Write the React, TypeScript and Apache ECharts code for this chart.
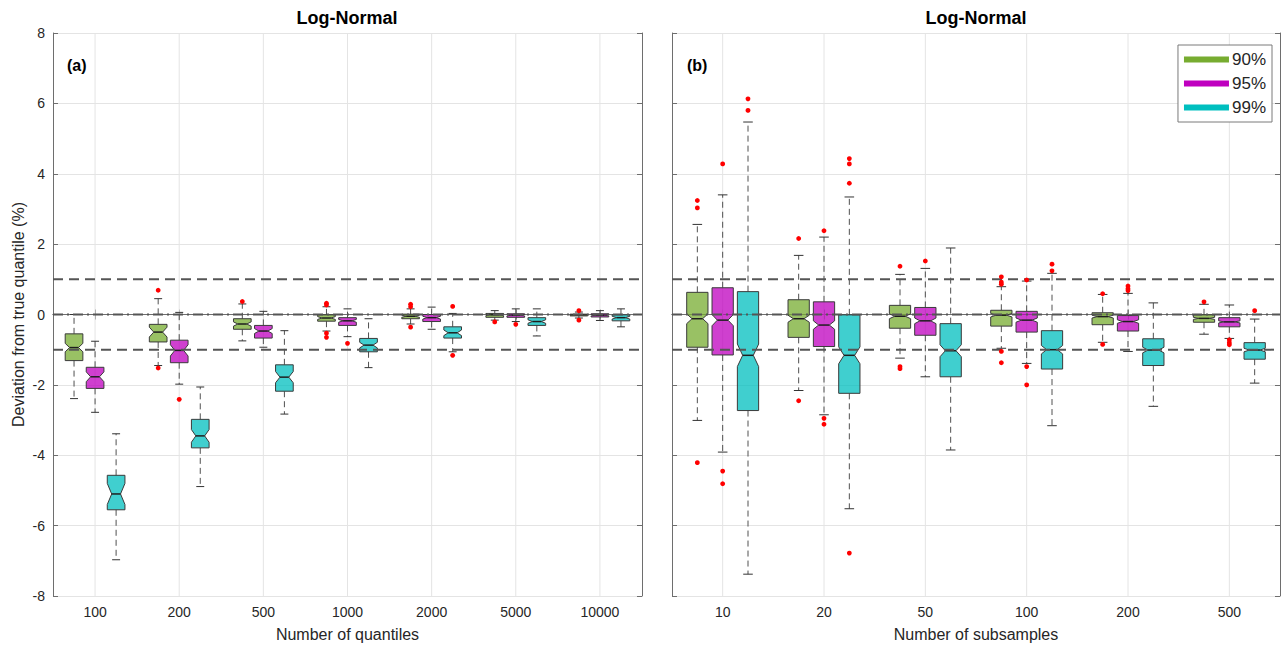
import React, { useEffect, useRef } from 'react';
import * as echarts from 'echarts';

// ---------- data ----------
const CATS_A = ['100', '200', '500', '1000', '2000', '5000', '10000'];
const CATS_B = ['10', '20', '50', '100', '200', '500'];
const SERIES_NAMES = ['90%', '95%', '99%'];
const Y_MIN = -8;
const Y_MAX = 8;
const Y_INTERVAL = 2;
const REF_LINES = [-1, 0, 1];

// each box: [lowerWhisker, q1, median, q3, upperWhisker, notchHalfWidth]
const A_90 = [
  [-2.39, -1.31, -0.94, -0.55, 0.0, 0.12],
  [-1.45, -0.78, -0.5, -0.28, 0.45, 0.14],
  [-0.75, -0.42, -0.27, -0.12, 0.3, 0.06],
  [-0.47, -0.19, -0.1, -0.01, 0.22, 0.04],
  [-0.27, -0.12, -0.05, 0.01, 0.16, 0.03],
  [-0.16, -0.08, -0.01, 0.03, 0.11, 0.02],
  [-0.1, -0.04, -0.01, 0.01, 0.07, 0.01],
];
const A_95 = [
  [-2.78, -2.1, -1.77, -1.5, -0.76, 0.14],
  [-1.98, -1.37, -1.02, -0.73, 0.06, 0.16],
  [-0.93, -0.67, -0.47, -0.31, 0.09, 0.07],
  [-0.63, -0.31, -0.18, -0.09, 0.16, 0.04],
  [-0.42, -0.2, -0.09, 0.0, 0.21, 0.04],
  [-0.2, -0.08, -0.02, 0.02, 0.16, 0.02],
  [-0.17, -0.07, -0.02, 0.02, 0.11, 0.02],
];
const A_99 = [
  [-6.97, -5.55, -5.1, -4.57, -3.39, 0.3],
  [-4.89, -3.79, -3.45, -2.98, -2.06, 0.18],
  [-2.83, -2.18, -1.78, -1.43, -0.46, 0.16],
  [-1.51, -1.06, -0.87, -0.68, -0.12, 0.08],
  [-1.06, -0.67, -0.52, -0.35, 0.03, 0.08],
  [-0.61, -0.31, -0.2, -0.09, 0.16, 0.05],
  [-0.35, -0.18, -0.09, -0.01, 0.16, 0.04],
];
const B_90 = [
  [-3.01, -0.93, -0.12, 0.63, 2.56, 0.14],
  [-2.16, -0.65, -0.12, 0.42, 1.68, 0.1],
  [-1.24, -0.39, -0.05, 0.26, 1.14, 0.07],
  [-0.96, -0.33, -0.02, 0.12, 0.79, 0.05],
  [-0.79, -0.29, -0.06, 0.05, 0.57, 0.04],
  [-0.56, -0.22, -0.11, -0.01, 0.29, 0.03],
];
const B_95 = [
  [-3.91, -1.15, -0.16, 0.76, 3.4, 0.16],
  [-2.85, -0.91, -0.3, 0.36, 2.2, 0.12],
  [-1.77, -0.59, -0.18, 0.2, 1.31, 0.08],
  [-1.39, -0.5, -0.16, 0.09, 0.95, 0.06],
  [-1.05, -0.47, -0.2, -0.03, 0.6, 0.05],
  [-0.68, -0.35, -0.21, -0.09, 0.27, 0.03],
];
const B_99 = [
  [-7.38, -2.73, -1.16, 0.65, 5.47, 0.32],
  [-5.52, -2.24, -1.16, -0.01, 3.34, 0.24],
  [-3.85, -1.77, -1.03, -0.26, 1.89, 0.17],
  [-3.16, -1.55, -1.0, -0.46, 1.17, 0.12],
  [-2.61, -1.45, -1.01, -0.69, 0.33, 0.08],
  [-1.95, -1.27, -1.01, -0.8, -0.13, 0.05],
];

// outliers: [categoryIndex, value]
const OUT_A_90 = [[1, 0.69], [1, -1.52], [2, 0.37], [3, 0.32], [3, 0.27], [3, -0.53], [3, -0.65], [4, 0.29], [4, 0.22], [4, -0.36], [5, -0.21], [6, 0.11], [6, -0.16]];
const OUT_A_95 = [[1, -2.41], [3, -0.82], [5, -0.28]];
const OUT_A_99 = [[4, 0.23], [4, -1.16]];
const OUT_B_90 = [[0, 3.24], [0, 3.03], [0, -4.21], [1, 2.16], [1, -2.45], [2, 1.37], [2, -1.48], [2, -1.54], [3, 1.07], [3, 0.92], [3, 0.86], [3, -1.05], [3, -1.37], [4, 0.59], [4, -0.85], [5, 0.36]];
const OUT_B_95 = [[0, 4.28], [0, -4.45], [0, -4.81], [1, 2.38], [1, -2.95], [1, -3.12], [2, 1.52], [3, 0.98], [3, -1.48], [3, -2.0], [4, 0.81], [4, 0.73], [4, 0.68], [5, -0.72], [5, -0.8], [5, -0.86]];
const OUT_B_99 = [[0, 6.13], [0, 5.8], [1, 4.43], [1, 4.28], [1, 3.73], [1, -6.78], [3, 1.43], [3, 1.24], [5, 0.11]];

// ---------- styles ----------
const COLORS = ['#77ac30', '#bf00bf', '#00bfbf'];
const FILLS = ['rgba(119,172,48,0.75)', 'rgba(191,0,191,0.75)', 'rgba(0,191,191,0.75)'];
const AXIS_COLOR = '#6e6e6e';
const GRID_COLOR = '#e4e4e4';
const TEXT_COLOR = '#262626';
const FONT = 'Liberation Sans, Arial, Helvetica, sans-serif';

const boxRender = (slot: number) => (params: any, api: any) => {
  const cat = api.value(0);
  const low = api.value(1);
  const q1 = api.value(2);
  const med = api.value(3);
  const q3 = api.value(4);
  const high = api.value(5);
  const notch = api.value(6);
  const band = api.size([1, 0])[0];
  const cx = api.coord([cat, 0])[0] + (slot - 1) * 0.25 * band;
  const w = 0.21 * band;
  const x0 = cx - w / 2;
  const x1 = cx + w / 2;
  const inset = w * 0.25;
  const cap = w * 0.45;
  const y = (v: number) => api.coord([cat, v])[1];
  const whisk = { stroke: '#505050', lineWidth: 1, lineDash: [6, 4] };
  const capStyle = { stroke: '#333333', lineWidth: 1 };
  const pts = [
    [x0, y(q3)], [x1, y(q3)], [x1, y(med + notch)], [x1 - inset, y(med)], [x1, y(med - notch)],
    [x1, y(q1)], [x0, y(q1)], [x0, y(med - notch)], [x0 + inset, y(med)], [x0, y(med + notch)],
  ];
  return {
    type: 'group',
    children: [
      { type: 'line', shape: { x1: cx, y1: y(q3), x2: cx, y2: y(high) }, style: whisk },
      { type: 'line', shape: { x1: cx, y1: y(q1), x2: cx, y2: y(low) }, style: whisk },
      { type: 'line', shape: { x1: cx - cap / 2, y1: y(high), x2: cx + cap / 2, y2: y(high) }, style: capStyle },
      { type: 'line', shape: { x1: cx - cap / 2, y1: y(low), x2: cx + cap / 2, y2: y(low) }, style: capStyle },
      { type: 'polygon', shape: { points: pts }, style: { fill: FILLS[slot], stroke: '#3a3a3a', lineWidth: 1 } },
      { type: 'line', shape: { x1: x0 + inset, y1: y(med), x2: x1 - inset, y2: y(med) }, style: { stroke: '#1e1e1e', lineWidth: 1.5 } },
    ],
  };
};

const outRender = (slot: number) => (params: any, api: any) => {
  const cat = api.value(0);
  const band = api.size([1, 0])[0];
  const p = api.coord([cat, api.value(1)]);
  return {
    type: 'circle',
    shape: { cx: p[0] + (slot - 1) * 0.25 * band, cy: p[1], r: 2.4 },
    style: { fill: '#ff0000', stroke: null },
  };
};

const gridLineRender = (params: any, api: any) => {
  const x = api.coord([api.value(0), 0])[0];
  const cs = params.coordSys;
  return {
    type: 'line',
    shape: { x1: x, y1: cs.y, x2: x, y2: cs.y + cs.height },
    style: { stroke: GRID_COLOR, lineWidth: 1 },
  };
};

const refRender = (params: any, api: any) => {
  const v = api.value(1);
  const yy = api.coord([0, v])[1];
  const cs = params.coordSys;
  return {
    type: 'line',
    shape: { x1: cs.x, y1: yy, x2: cs.x + cs.width, y2: yy },
    style: { stroke: '#555555', lineWidth: 2, lineDash: v === 0 ? [10, 4, 2, 4] : [10, 6] },
  };
};

function buildPanel(idx: number, cats: string[], boxes: number[][][], outs: number[][][]) {
  const series: any[] = [];
  const xi = idx * 2;
  const yi = idx * 2;
  series.push({
    type: 'custom', name: '_grid' + idx, xAxisIndex: xi, yAxisIndex: yi, z: 1, silent: true,
    renderItem: gridLineRender, data: cats.map((_, i) => [i, 0]),
  });
  boxes.forEach((b, s) => {
    series.push({
      type: 'custom', name: SERIES_NAMES[s], xAxisIndex: xi, yAxisIndex: yi, z: 2,
      itemStyle: { color: COLORS[s] },
      renderItem: boxRender(s),
      data: b.map((row, i) => [i, ...row]),
    });
  });
  series.push({
    type: 'custom', name: '_ref' + idx, xAxisIndex: xi, yAxisIndex: yi, z: 3, silent: true,
    renderItem: refRender, data: REF_LINES.map((v) => [0, v]),
  });
  outs.forEach((o, s) => {
    series.push({
      type: 'custom', name: '_out' + idx + '_' + s, xAxisIndex: xi, yAxisIndex: yi, z: 4,
      itemStyle: { color: '#ff0000' },
      renderItem: outRender(s),
      data: o,
    });
  });
  return series;
}

function xAxes(grid: number, cats: string[], name: string) {
  const common = {
    gridIndex: grid, type: 'category', data: cats, boundaryGap: true,
    axisLine: { show: true, lineStyle: { color: AXIS_COLOR, width: 1 } },
    axisTick: { show: true, inside: true, alignWithLabel: true, length: 5, lineStyle: { color: AXIS_COLOR } },
    splitLine: { show: false },
  };
  return [
    {
      ...common, position: 'bottom',
      axisLabel: { show: true, fontSize: 14, color: TEXT_COLOR, margin: 9, fontFamily: FONT },
      name, nameLocation: 'middle', nameGap: 30,
      nameTextStyle: { fontSize: 16, color: TEXT_COLOR, fontFamily: FONT },
    },
    { ...common, position: 'top', axisLabel: { show: false } },
  ];
}

function yAxes(grid: number, showLabels: boolean, name: string) {
  const common = {
    gridIndex: grid, type: 'value', min: Y_MIN, max: Y_MAX, interval: Y_INTERVAL,
    axisLine: { show: true, lineStyle: { color: AXIS_COLOR, width: 1 } },
    axisTick: { show: true, inside: true, length: 5, lineStyle: { color: AXIS_COLOR } },
  };
  return [
    {
      ...common, position: 'left',
      axisLabel: { show: showLabels, fontSize: 14, color: TEXT_COLOR, margin: 8, fontFamily: FONT },
      splitLine: { show: true, lineStyle: { color: GRID_COLOR, width: 1 } },
      name, nameLocation: 'middle', nameGap: 27,
      nameTextStyle: { fontSize: 16, color: TEXT_COLOR, fontFamily: FONT },
    },
    { ...common, position: 'right', axisLabel: { show: false }, splitLine: { show: false } },
  ];
}

export default function App() {
  const ref = useRef<HTMLDivElement>(null);
  useEffect(() => {
    if (!ref.current) return;
    const chart = echarts.init(ref.current, undefined, { renderer: 'svg' });
    const option: any = {
      animation: false,
      backgroundColor: '#ffffff',
      textStyle: { fontFamily: FONT },
      grid: [
        { left: 53, right: 641, top: 33, bottom: 51, containLabel: false },
        { left: 672, right: 3, top: 33, bottom: 51, containLabel: false },
      ],
      xAxis: [...xAxes(0, CATS_A, 'Number of quantiles'), ...xAxes(1, CATS_B, 'Number of subsamples')],
      yAxis: [...yAxes(0, true, 'Deviation from true quantile (%)'), ...yAxes(1, false, '')],
      legend: {
        data: SERIES_NAMES,
        orient: 'vertical',
        right: 11,
        top: 45,
        icon: 'rect',
        itemWidth: 45,
        itemHeight: 6,
        itemGap: 7,
        padding: [6, 6, 6, 6],
        borderColor: '#7a7a7a',
        borderWidth: 1,
        backgroundColor: '#ffffff',
        selectedMode: false,
        textStyle: { fontSize: 17, color: TEXT_COLOR, fontFamily: FONT, padding: [0, 0, 0, -2] },
        z: 10,
      },
      graphic: [
        { type: 'text', x: 347, y: 18, style: { text: 'Log-Normal', font: 'bold 18px ' + FONT, fill: '#000', textAlign: 'center', textVerticalAlign: 'middle' } },
        { type: 'text', x: 976, y: 18, style: { text: 'Log-Normal', font: 'bold 18px ' + FONT, fill: '#000', textAlign: 'center', textVerticalAlign: 'middle' } },
        { type: 'text', x: 67, y: 65, style: { text: '(a)', font: 'bold 16px ' + FONT, fill: '#000', textAlign: 'left', textVerticalAlign: 'middle' } },
        { type: 'text', x: 687, y: 65, style: { text: '(b)', font: 'bold 16px ' + FONT, fill: '#000', textAlign: 'left', textVerticalAlign: 'middle' } },
      ],
      series: [
        ...buildPanel(0, CATS_A, [A_90, A_95, A_99], [OUT_A_90, OUT_A_95, OUT_A_99]),
        ...buildPanel(1, CATS_B, [B_90, B_95, B_99], [OUT_B_90, OUT_B_95, OUT_B_99]),
      ],
    };
    chart.setOption(option);
    return () => chart.dispose();
  }, []);
  return (
    <div
      ref={ref}
      style={{ position: 'fixed', left: 0, top: 0, width: 1283, height: 647, background: '#fff' }}
    />
  );
}
